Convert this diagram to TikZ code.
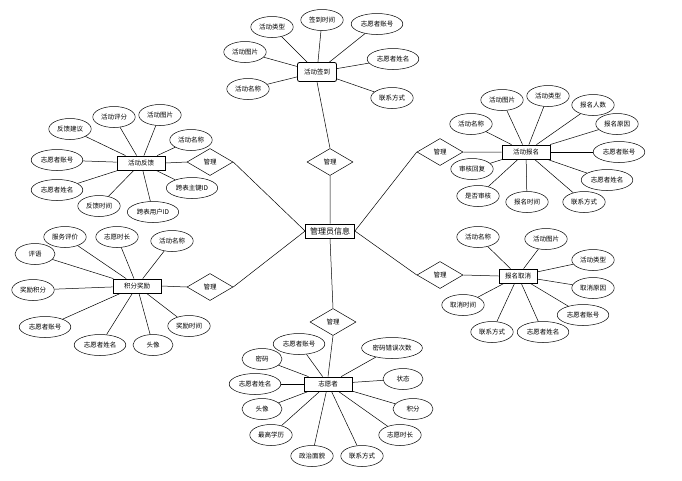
\documentclass[tikz,border=0pt]{standalone}
\usepackage{fontspec}
\setmainfont{Noto Sans CJK SC}
\usetikzlibrary{shapes.geometric}
\tikzset{
    attr/.style = {ellipse, draw, font=\fontsize{6.5}{7}\selectfont, inner xsep=2pt, inner ysep=1pt, minimum width=40pt, minimum height=21pt},
    entity/.style = {rectangle, draw, thick, fill=white, font=\fontsize{6.5}{7}\selectfont, minimum width=48pt, minimum height=14pt, inner sep=1pt},
    rel/.style = {diamond, draw, aspect=1.7, font=\fontsize{6.5}{7}\selectfont, minimum width=46pt, minimum height=27pt, inner sep=0pt},
    every edge/.style = {draw, line width=0.5pt}
}

\begin{document}
\begin{tikzpicture}[x=1pt, y=-1pt, line width=0.5pt]
        \useasboundingbox (0,0) rectangle (682,480);

        \node[entity, font=\fontsize{8}{9}\selectfont, minimum width=49pt] (admin) at (330,231) {管理员信息};
        \node[entity, rounded corners=2pt, minimum width=39pt, minimum height=19pt] (sign) at (317,72) {活动签到};
        \node[entity] (fb) at (141,163) {活动反馈};
        \node[entity] (enr) at (526,152) {活动报名};
        \node[entity] (rw) at (137,286) {积分奖励};
        \node[entity, minimum width=38pt] (cc) at (518,276) {报名取消};
        \node[entity] (vol) at (328,384) {志愿者};

        \node[rel] (d1) at (330,162) {管理};
        \node[rel] (d2) at (210,162) {管理};
        \node[rel] (d3) at (210,287) {管理};
        \node[rel] (d4) at (333,322) {管理};
        \node[rel] (d5) at (440,152) {管理};
        \node[rel] (d6) at (440,275) {管理};

        \draw (admin.north) -- (d1.south) (d1.north) -- (sign.south);
        \draw (admin.west) -- (d2.east) (d2.west) -- (fb.east);
        \draw (admin.west) -- (d3.east) (d3.west) -- (rw.east);
        \draw (admin.south) -- (d4.north) (d4.south) -- (vol.north);
        \draw (admin.east) -- (d5.west) (d5.east) -- (enr.west);
        \draw (admin.east) -- (d6.west) (d6.east) -- (cc.west);

        % attributes
        \foreach \n/\p/\t in {s1/{(272,27)}/活动类型, s2/{(322,20)}/签到时间, s3/{(377,24)}/志愿者账号,
                s4/{(245,52)}/活动图片, s5/{(393,59)}/志愿者姓名, s6/{(248,89)}/活动名称, s7/{(392,98)}/联系方式}
            \node[attr] (\n) at \p {\t} edge (sign);
        \foreach \n/\p/\t in {f1/{(114,117)}/活动评分, f2/{(160,115)}/活动图片, f3/{(70,129)}/反馈建议,
                f4/{(191,140)}/活动名称, f5/{(57,160)}/志愿者账号, f6/{(57,190)}/志愿者姓名,
                f7/{(192,188)}/跨表主键ID, f8/{(99,206)}/反馈时间, f9/{(153,212)}/跨表用户ID}
            \node[attr] (\n) at \p {\t} edge (fb);
        \foreach \n/\p/\t in {e1/{(502,100)}/活动图片, e2/{(548,96)}/活动类型, e3/{(593,105)}/报名人数,
                e4/{(471,124)}/活动名称, e5/{(617,124)}/报名原因, e6/{(619,152)}/志愿者账号,
                e7/{(472,169)}/审核回复, e8/{(607,180)}/志愿者姓名, e9/{(478,196)}/是否审核,
                e10/{(527,202)}/报名时间, e11/{(584,202)}/联系方式}
            \node[attr] (\n) at \p {\t} edge (enr);
        \foreach \n/\p/\t in {r1/{(65,237)}/服务评价, r2/{(117,237)}/志愿时长, r3/{(172,241)}/活动名称,
                r4/{(35,254)}/评语, r5/{(33,290)}/奖励积分, r6/{(45,327)}/志愿者账号,
                r7/{(189,326)}/奖励时间, r8/{(100,345)}/志愿者姓名, r9/{(153,345)}/头像}
            \node[attr] (\n) at \p {\t} edge (rw);
        \foreach \n/\p/\t in {c1/{(478,237)}/活动名称, c2/{(546,239)}/活动图片, c3/{(593,260)}/活动类型,
                c4/{(593,288)}/取消原因, c5/{(463,305)}/取消时间, c6/{(583,315)}/志愿者账号,
                c7/{(492,332)}/联系方式, c8/{(543,332)}/志愿者姓名}
            \node[attr] (\n) at \p {\t} edge (cc);
        \foreach \n/\p/\t in {v1/{(299,344)}/志愿者账号, v2/{(392,348)}/密码错误次数, v3/{(262,359)}/密码,
                v4/{(255,384)}/志愿者姓名, v5/{(403,379)}/状态, v6/{(262,409)}/头像,
                v7/{(413,409)}/积分, v8/{(271,435)}/最高学历, v9/{(400,435)}/志愿时长,
                v10/{(312,456)}/政治面貌, v11/{(362,456)}/联系方式}
            \node[attr] (\n) at \p {\t} edge (vol);
    \end{tikzpicture}
\end{document}
